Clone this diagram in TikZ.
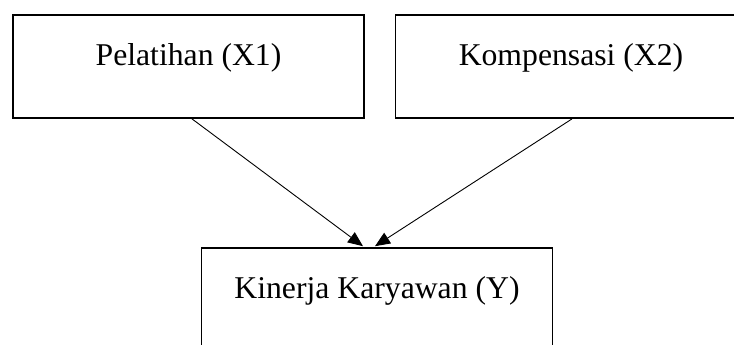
\documentclass[tikz,border=0pt]{standalone}
\usepackage{fontspec}
\setmainfont{Liberation Serif}
\usetikzlibrary{arrows.meta}
\begin{document}
\begin{tikzpicture}[x=1pt,y=1pt,
  varbox/.style={draw, line width=1.8pt, rectangle, inner sep=0pt,
    minimum width=351pt, minimum height=103pt,
    text height=20pt, text depth=21pt,
    font=\fontsize{31.7}{38}\selectfont},
  arr/.style={-{Triangle[length=15pt,width=12.5pt]}, line width=0.9pt}]
  \useasboundingbox (0,0) rectangle (734,345);
  \clip (0,0) rectangle (734,345);
  % independent variables
  \node[varbox] (x1) at (188.5,278.5) {Pelatihan (X1)};
  \node[varbox] (x2) at (571,278.5) {Kompensasi (X2)};
  % dependent variable
  \node[varbox] (y) at (377,45.5) {Kinerja Karyawan (Y)};
  % influence arrows
  \draw[arr] ([xshift=3.5pt]x1.south) -- ([xshift=-14pt,yshift=0.9pt]y.north);
  \draw[arr] ([xshift=1pt]x2.south) -- ([xshift=-2pt,yshift=0.9pt]y.north);
\end{tikzpicture}
\end{document}
